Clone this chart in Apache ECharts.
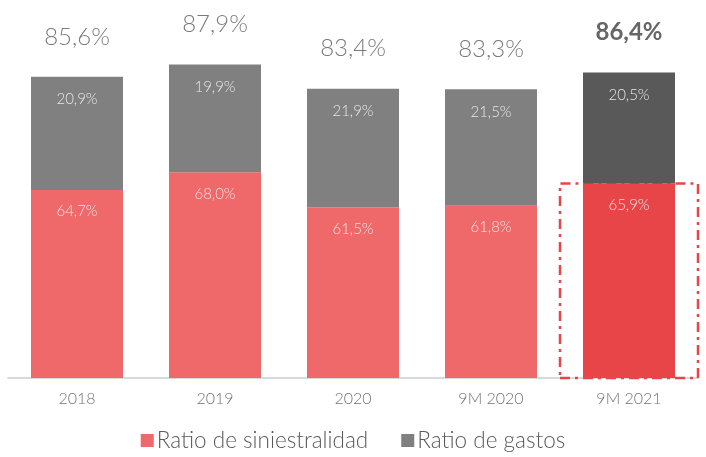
<!DOCTYPE html>
<html>
<head>
<meta charset="utf-8">
<script src="https://cdn.jsdelivr.net/npm/echarts@6/dist/echarts.min.js"></script>
<style>
  html, body { margin: 0; padding: 0; background: #fff; }
  #chart { width: 706px; height: 457px; }
</style>
</head>
<body>
<div id="chart"></div>
<script>
const categories = ['2018', '2019', '2020', '9M 2020', '9M 2021']
const siniestralidad = [64.7, 68.0, 61.5, 61.8, 65.9]
const gastos = [20.9, 19.9, 21.9, 21.5, 20.5]
const totals = [85.6, 87.9, 83.4, 83.3, 86.4]

const FONT = 'Lato, "Open Sans", sans-serif'
const fmt = v => v.toFixed(1).replace('.', ',') + '%'
const last = categories.length - 1

const myChart = echarts.init(document.getElementById('chart'))

const option = {
  animation: false,
  grid: { left: 8, right: 8, top: 53, bottom: 79 },
  legend: {
    data: ['Ratio de siniestralidad', 'Ratio de gastos'],
    bottom: 0,
    left: 'center',
    itemWidth: 13,
    itemHeight: 13,
    itemGap: 33,
    icon: 'rect',
    textStyle: { fontFamily: FONT, fontSize: 22.5, fontWeight: 300, color: '#595959', padding: [0, 0, 0, -2] }
  },
  xAxis: {
    type: 'category',
    data: categories,
    axisTick: { show: false },
    axisLine: { lineStyle: { color: '#d9d9d9', width: 2 } },
    axisLabel: { fontFamily: FONT, fontSize: 16, fontWeight: 300, color: '#737373', margin: 13 }
  },
  yAxis: {
    type: 'value',
    min: 30,
    max: 90,
    show: false
  },
  series: [
    {
      name: 'Ratio de siniestralidad',
      type: 'bar',
      stack: 'ratio',
      barWidth: 92,
      itemStyle: { color: '#ef686a' },
      label: {
        show: true,
        position: 'insideTop',
        distance: 14,
        fontFamily: FONT,
        fontSize: 15,
        fontWeight: 300,
        color: '#fbe0e0',
        formatter: p => fmt(p.value)
      },
      data: siniestralidad.map((v, i) => i === last ? { value: v, itemStyle: { color: '#e74548' } } : v),
      markArea: {
        silent: true,
        itemStyle: {
          color: 'rgba(0,0,0,0)',
          borderColor: '#e74548',
          borderWidth: 2.5,
          borderType: [10, 5, 3, 5],
          borderRadius: 0,
          borderJoin: 'miter'
        },
        data: [[
          { xAxis: categories[last], yAxis: 30 },
          { xAxis: categories[last], yAxis: siniestralidad[last] }
        ]]
      }
    },
    {
      name: 'Ratio de gastos',
      type: 'bar',
      stack: 'ratio',
      barWidth: 92,
      itemStyle: { color: '#808080' },
      label: {
        show: true,
        position: 'insideTop',
        distance: 15,
        fontFamily: FONT,
        fontSize: 15,
        fontWeight: 300,
        color: '#e6e6e6',
        formatter: p => fmt(p.value)
      },
      data: gastos.map((v, i) => i === last ? { value: v, itemStyle: { color: '#595959' } } : v)
    },
    {
      name: 'Total',
      type: 'scatter',
      symbolSize: 0,
      silent: true,
      label: {
        show: true,
        position: 'top',
        distance: 28,
        fontFamily: FONT,
        fontSize: 24,
        fontWeight: 300,
        color: '#595959',
        formatter: p => fmt(p.value)
      },
      data: totals.map((v, i) => i === last
        ? { value: v, label: { fontWeight: 'bold', color: '#404040' } }
        : v)
    }
  ]
}

myChart.setOption(option)
</script>
</body>
</html>
